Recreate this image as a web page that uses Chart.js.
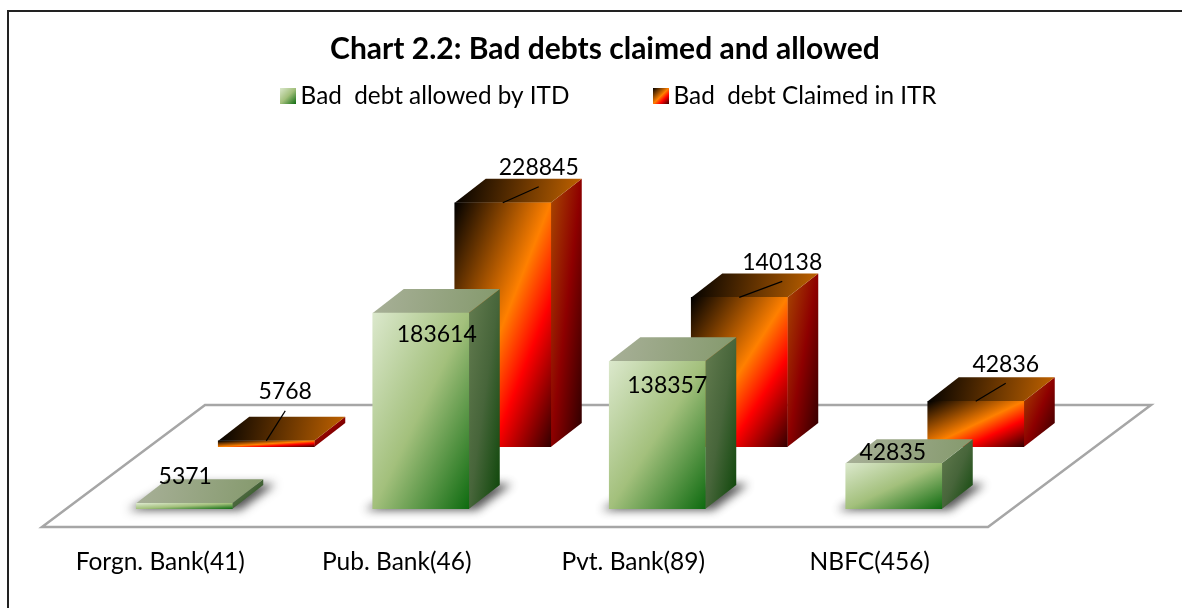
<!DOCTYPE html>
<html><head><meta charset="utf-8">
<style>html,body{margin:0;padding:0;background:#fff}#w{width:1182px;height:608px;position:relative}</style>
<script src="https://cdn.jsdelivr.net/npm/chart.js@4"></script>
</head><body><div id="w"><canvas id="c" width="1182" height="608"></canvas></div>
<script>
const categories = ['Forgn. Bank(41)','Pub. Bank(46)','Pvt. Bank(89)','NBFC(456)'];
const allowedName = 'Bad  debt allowed by ITD';
const claimedName = 'Bad  debt Claimed in ITR';
const allowedValues = [5371,183614,138357,42835];
const claimedValues = [5768,228845,140138,42836];

// oblique projection constants
const PX_PER_UNIT = 196/183614;
const BAR_W = 96;
const BAR_DEPTH = [31,-24];
const FLOOR_DEPTH = [163,-122];
const SERIES_SHIFT = [[24,-18],[106,-80]];
const LABEL_OFFSET = [
  [[1,-27],[16,22],[10,24],[-1,-11]],
  [[19,-49],[36,-35],[43,-35],[30,-37]]
];
const FONT = 'Lato, Carlito, sans-serif';
const STOPS = [
  [[0,'#dbe8cc'],[.5,'#a3c07c'],[1,'#0e6b10']],
  [[0,'#000000'],[.5,'#ff8000'],[.7,'#ff0000'],[1,'#330000']]
];
const SIDE_STOPS = [
  [[0,'#647c50'],[.5,'#47653a'],[1,'#0b4507']],
  [[0,'#a84a00'],[.5,'#8e0000'],[1,'#2a0000']]
];
const TOP_STOPS = [
  [[0,'#a8b098'],[1,'#84996c']],
  [[0,'#000000'],[1,'#c46400']]
];

function diagGrad(ctx,x,y,w,h,stops){
  const n=Math.hypot(w,h), L=2*w*h/n;
  const g=ctx.createLinearGradient(x,y,x+h/n*L,y+w/n*L);
  stops.forEach(s=>g.addColorStop(s[0],s[1]));
  return g;
}
function swatch(stops){
  const cv=document.createElement('canvas');cv.width=16;cv.height=16;
  const x=cv.getContext('2d');x.fillStyle=diagGrad(x,0,0,16,16,stops);x.fillRect(0,0,16,16);
  return cv;
}
const SWATCHES = STOPS.map(swatch);
function frontFill(c){
  if(c.type!=='data') return '#888';
  const ch=c.chart, xs=ch.scales.x, ys=ch.scales.y;
  const x=xs.getPixelForValue(c.dataIndex)-BAR_W/2, y=ys.getPixelForValue(c.parsed.y), b=ys.getPixelForValue(0);
  return diagGrad(ch.ctx,x,y,BAR_W,Math.max(b-y,1),STOPS[c.datasetIndex]);
}
function poly(ctx,p){ctx.beginPath();p.forEach((q,i)=>i?ctx.lineTo(q[0],q[1]):ctx.moveTo(q[0],q[1]));ctx.closePath();}

const scene = {
  id:'scene',
  afterLayout(ch){
    const t=ch.titleBlock,l=ch.legend;
    t.left+=90;t.right+=90;
    l.left+=97;l.right+=97;
    l.top=83.85-l.options.labels.padding;
    const y=ch.scales.y;
    y.max=(y.bottom-y.top)/PX_PER_UNIT;
    y.configure();
  },
  beforeDatasetsDraw(ch){
    const c=ch.ctx,a=ch.chartArea;
    c.save();
    c.strokeStyle='#222';c.lineWidth=2;
    c.beginPath();c.moveTo(8,608);c.lineTo(8,11);c.lineTo(1182,11);c.stroke();
    c.strokeStyle='#a6a6a6';c.lineWidth=2.5;c.lineJoin='miter';
    poly(c,[[a.left,a.bottom],[a.right,a.bottom],[a.right+FLOOR_DEPTH[0],a.bottom+FLOOR_DEPTH[1]],[a.left+FLOOR_DEPTH[0],a.bottom+FLOOR_DEPTH[1]]]);
    c.stroke();
    c.restore();
  },
  beforeDatasetDraw(ch,args){
    const c=ch.ctx,i=args.index,s=SERIES_SHIFT[i],m=args.meta;
    c.save();
    c.beginPath();c.rect(0,0,ch.width,ch.height);c.clip();
    c.translate(s[0],s[1]);
    m.data.forEach(b=>{
      const x0=b.x-BAR_W/2,x1=b.x+BAR_W/2,yt=b.y,yb=b.base,dx=BAR_DEPTH[0],dy=BAR_DEPTH[1];
      if(i===0){
        const far=3000;
        c.save();
        c.shadowColor='rgba(40,40,40,.8)';c.shadowBlur=10;c.shadowOffsetX=far;
        c.fillStyle='#000';
        poly(c,[[x0-8-far,yb+1],[x1+8-far,yb+1],[x1+dx+12-far,yb+dy-1],[x0+dx+8-far,yb+dy-1]]);
        c.fill();
        c.restore();
      }
      c.fillStyle=diagGrad(c,x1,yt+dy,dx,yb-yt-dy,SIDE_STOPS[i]);
      poly(c,[[x1,yt],[x1+dx,yt+dy],[x1+dx,yb+dy],[x1,yb]]);c.fill();
      const g=c.createLinearGradient(x0,yt+dy,x1+dx,yt);
      TOP_STOPS[i].forEach(q=>g.addColorStop(q[0],q[1]));
      c.fillStyle=g;
      poly(c,[[x0,yt],[x0+dx,yt+dy],[x1+dx,yt+dy],[x1,yt]]);c.fill();
    });
  },
  afterDatasetDraw(ch){ch.ctx.restore();},
  afterDatasetsDraw(ch){
    const c=ch.ctx;
    c.save();
    c.font='23px '+FONT;c.textAlign='center';c.textBaseline='middle';
    ch.data.datasets.forEach((d,i)=>{
      const s=SERIES_SHIFT[i];
      ch.getDatasetMeta(i).data.forEach((b,k)=>{
        const o=LABEL_OFFSET[i][k],x=b.x+s[0],y=b.y+s[1];
        if(i===1){
          c.strokeStyle='#000';c.lineWidth=1.2;
          c.beginPath();c.moveTo(x,y);c.lineTo(x+o[0],y+o[1]+19);c.stroke();
        }
        c.fillStyle='#000';
        c.fillText(String(d.data[k]),x+o[0],y+o[1]);
      });
    });
    c.restore();
  }
};

new Chart(document.getElementById('c'),{
  type:'bar',
  data:{labels:categories,datasets:[
    {label:allowedName,data:allowedValues,backgroundColor:frontFill},
    {label:claimedName,data:claimedValues,backgroundColor:frontFill}
  ]},
  options:{
    responsive:false,animation:false,
    layout:{padding:{left:42,right:194,top:30,bottom:19.6}},
    datasets:{bar:{grouped:false,barThickness:BAR_W,borderWidth:0}},
    plugins:{
      tooltip:{enabled:false},
      title:{display:true,text:'Chart 2.2: Bad debts claimed and allowed',color:'#000',
        font:{family:FONT,size:30,weight:'bold',lineHeight:1.3},padding:{top:0,bottom:0}},
      legend:{display:true,maxHeight:40,
        labels:{usePointStyle:true,pointStyleWidth:1,boxHeight:16,padding:91,color:'#000',font:{family:FONT,size:24.3},
          generateLabels(ch){return ch.data.datasets.map((d,i)=>({text:d.label,
            fillStyle:'#888',pointStyle:SWATCHES[i],
            lineWidth:0,strokeStyle:'transparent',datasetIndex:i}));}}}
    },
    scales:{
      x:{grid:{display:false},border:{display:false},
        ticks:{color:'#000',font:{family:FONT,size:24.5},padding:12,maxRotation:0,autoSkip:false}},
      y:{display:false,min:0,bounds:'data'}
    }
  },
  plugins:[scene]
});
</script></body></html>
